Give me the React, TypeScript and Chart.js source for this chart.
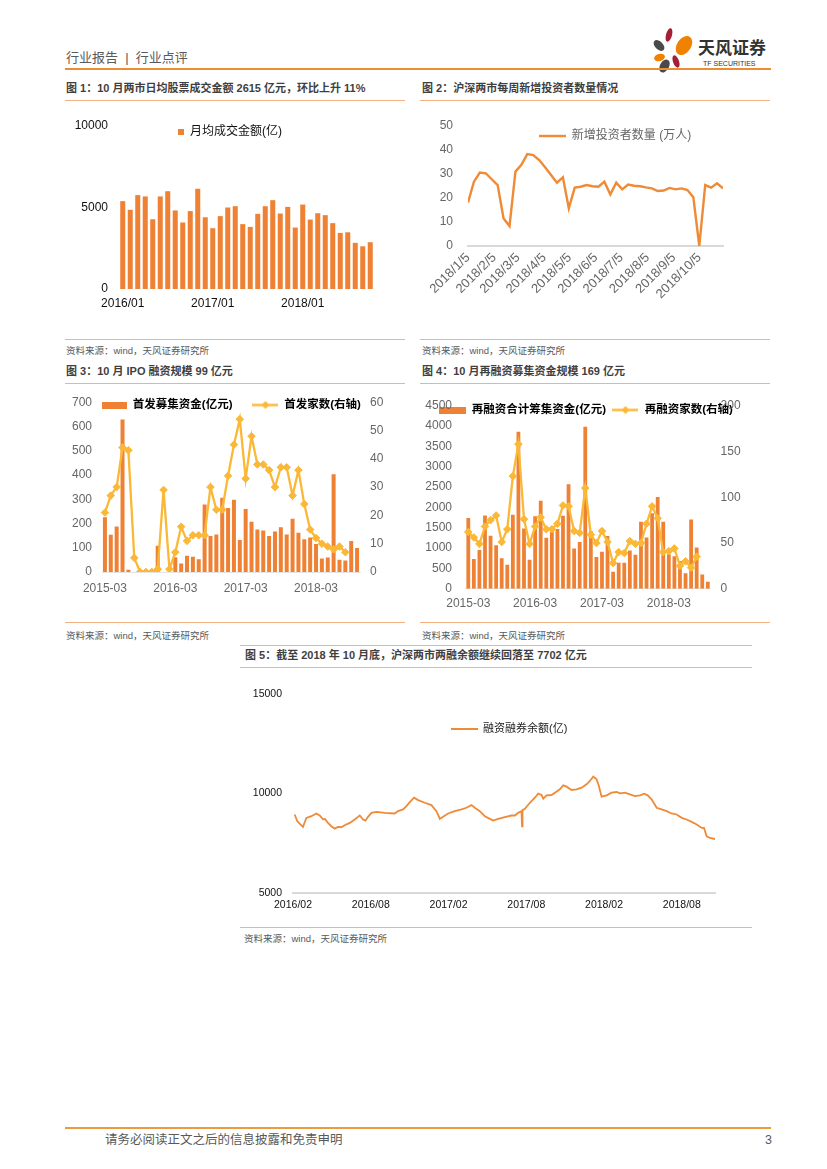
import React, { useEffect, useRef } from 'react';
import { Chart, registerables } from 'chart.js';

Chart.register(...registerables);

const FONT = "'Liberation Sans', Arial, 'Noto Sans CJK SC', sans-serif";
const ORANGE = '#EE8133';
const LINE_ORANGE = '#EF8A36';
const GOLD = '#FBB836';
const GRAY_TXT = '#666666';
const BASE_GRAY = '#D9D9D9';
const RULE = '#F4B183';

function monthSeq(y: number, m: number, n: number, sep: string): string[] {
  const out: string[] = [];
  for (let i = 0; i < n; i++) {
    const t = (m - 1) + i;
    const yy = y + Math.floor(t / 12);
    const mm = (t % 12) + 1;
    out.push(`${yy}${sep}${mm < 10 ? '0' + mm : mm}`);
  }
  return out;
}

// ---- Figure 1: monthly average turnover (亿)
const turnoverMonths = monthSeq(2016, 1, 34, '/');
const turnoverValues = [5390, 4860, 5760, 5680, 4280, 5680, 6000, 4820, 4080, 4780, 6150, 4400, 3730, 4470, 5000, 5080, 3980, 3810, 4610, 5080, 5450, 4630, 5040, 3770, 5180, 4260, 4650, 4530, 4040, 3440, 3480, 2830, 2620, 2870];

// ---- Figure 2: weekly new investors (万人), weeks ending on Fridays from 2018/1/5
const investorFirstWeek = '2018/1/5';
const investorTickLabels = ['2018/1/5', '2018/2/5', '2018/3/5', '2018/4/5', '2018/5/5', '2018/6/5', '2018/7/5', '2018/8/5', '2018/9/5', '2018/10/5'];
const investorWeeklyNew = [18.1, 26.8, 30.6, 30.3, 27.8, 25.4, 11.5, 8.3, 31.0, 33.8, 38.3, 37.9, 35.8, 32.8, 29.6, 26.4, 28.6, 15.7, 24.3, 24.7, 25.4, 24.9, 24.7, 26.8, 21.5, 26.4, 23.6, 25.6, 25.1, 24.9, 24.4, 24.0, 22.9, 23.1, 24.2, 23.6, 24.0, 23.3, 20.3, 0, 25.4, 24.3, 26.1, 24.0];

// ---- Figures 3 & 4: monthly financing
const financingMonths = monthSeq(2015, 3, 44, '-');
const ipoAmount = [226, 154, 188, 629, 9, 0, 0, 0, 0, 108, 0, 0, 61, 35, 67, 63, 53, 278, 148, 155, 306, 264, 298, 132, 260, 207, 175, 171, 148, 167, 184, 155, 220, 162, 135, 142, 115, 56, 60, 403, 51, 47, 128, 99];
const ipoCount = [21, 27, 30, 44, 43, 5, 0, 0, 0, 1, 29, 1, 7, 16, 11, 13, 13, 13, 30, 22, 22, 34, 45, 54, 33, 48, 38, 38, 36, 30, 37, 37, 27, 36, 24, 15, 12, 10, 9, 8, 9, 7, null, null];
const seoAmount = [1740, 730, 950, 1800, 1300, 1070, 750, 590, 1820, 3860, 1480, 710, 1780, 2160, 1250, 1410, 1465, 1795, 2570, 990, 1150, 3980, 1420, 780, 910, 1295, 415, 640, 640, 940, 835, 1645, 1260, 1855, 2255, 1645, 850, 800, 680, 380, 1700, 1015, 350, 169];
const seoCount = [62, 56, 49, 68, 75, 80, 51, 65, 123, 158, 76, 49, 68, 78, 65, 65, 71, 91, 90, 63, 61, 110, 59, 50, 63, 51, 28, 40, 39, 52, 49, 50, 71, 90, 77, 40, 41, 44, 25, 30, 23, 35, null, null];

// ---- Figure 5: margin balance (亿), x = months after 2016/02
const marginTickLabels = ['2016/02', '2016/08', '2017/02', '2017/08', '2018/02', '2018/08'];
const marginMonthOffsets = [
  0.13, 0.33, 0.51, 0.77, 1.03, 1.42, 1.80, 2.06, 2.32, 2.45,
  2.70, 2.96, 3.22, 3.47, 3.73, 3.99, 4.38, 4.76, 5.02, 5.15,
  5.41, 5.59, 5.79, 6.05, 6.44, 7.08, 7.85, 8.11, 8.49, 8.75,
  9.01, 9.34, 9.65, 10.17, 10.68, 11.07, 11.33, 11.58, 11.97, 12.48,
  13.00, 13.38, 13.77, 14.03, 14.41, 14.80, 15.19, 15.44, 15.83, 16.34,
  16.86, 17.12, 17.37, 17.63, 17.67, 17.71, 17.89, 18.28, 18.66, 18.92,
  19.18, 19.31, 19.56, 19.95, 20.21, 20.59, 20.85, 21.11, 21.49, 21.88,
  22.27, 22.65, 22.91, 23.17, 23.42, 23.60, 23.81, 24.20, 24.58, 24.97,
  25.23, 25.61, 26.00, 26.38, 26.77, 27.10, 27.36, 27.67, 28.06, 28.44,
  28.83, 29.21, 29.60, 29.99, 30.37, 30.76, 31.15, 31.53, 31.71, 31.92,
  32.18, 32.56,
];
const marginBalance = [
  8936, 8598, 8480, 8311, 8767, 8851, 8987, 8885, 8683, 8716,
  8514, 8345, 8227, 8311, 8294, 8396, 8514, 8683, 8818, 8885,
  8683, 8632, 8818, 9020, 9071, 9020, 8987, 9105, 9189, 9358,
  9561, 9780, 9662, 9527, 9409, 9105, 8716, 8818, 8987, 9105,
  9189, 9274, 9409, 9274, 9105, 8851, 8716, 8632, 8716, 8801,
  8885, 8885, 9020, 9105, 8345, 9155, 9223, 9527, 9780, 9983,
  9916, 9730, 9899, 9916, 10034, 10203, 10405, 10338, 10169, 10203,
  10287, 10456, 10625, 10845, 10709, 10372, 9831, 9899, 10034, 10068,
  10000, 10034, 9949, 9865, 9899, 9983, 9899, 9696, 9274, 9189,
  9105, 8987, 8936, 8767, 8683, 8564, 8429, 8260, 8260, 7838,
  7754, 7702,
];

// ---------- helpers
function daysFrom(first: string, s: string) {
  const [y0, m0, d0] = first.split('/').map(Number);
  const [y, m, d] = s.split('/').map(Number);
  return Math.round((Date.UTC(y, m - 1, d) - Date.UTC(y0, m0 - 1, d0)) / 86400000);
}

function sym(w: number, h: number, draw: (c: CanvasRenderingContext2D) => void) {
  const c = document.createElement('canvas');
  c.width = w;
  c.height = h;
  const ctx = c.getContext('2d')!;
  draw(ctx);
  return c;
}

function lineSym(color: string, w: number, lw: number) {
  return sym(w, 4, (c) => { c.fillStyle = color; c.fillRect(0, 2 - lw / 2, w, lw); });
}
function rectSym(color: string, w: number, h: number) {
  return sym(w, h, (c) => { c.fillStyle = color; c.fillRect(0, 0, w, h); });
}
function diamondLineSym(color: string, w: number) {
  return sym(w, 9, (c) => {
    c.fillStyle = color;
    c.fillRect(0, 3.3, w, 2.4);
    const m = w / 2;
    c.beginPath();
    c.moveTo(m, 0.5); c.lineTo(m + 4, 4.5); c.lineTo(m, 8.5); c.lineTo(m - 4, 4.5);
    c.closePath();
    c.fill();
  });
}

const plain = (v: any) => String(v);

// legend drawn inside the plot area at a given centre
function insideLegend(cx: number, cy: number, fs: number, pad: number) {
  return {
    id: 'insideLegend',
    beforeUpdate(chart: any) {
      const lg = chart.legend;
      if (lg && !lg._ilPatched) {
        const fit = lg.fit;
        lg.fit = function (this: any, ...a: any[]) { fit.apply(this, a); this.height = 0; };
        lg._ilPatched = true;
      }
    },
    afterLayout(chart: any) {
      const lg = chart.legend;
      if (!lg) return;
      const w = chart.width;
      const top = cy - pad - fs / 2;
      lg.left = cx - w; lg.right = cx + w; lg.width = 2 * w;
      lg.top = top; lg.bottom = top + fs + 2 * pad + 4; lg.height = fs + 2 * pad + 4;
    },
  };
}

function legendCfg(symbols: HTMLCanvasElement[], fs: number, pad: number, bold: boolean, color: string, symW: number) {
  return {
    display: true,
    position: 'top',
    labels: {
      usePointStyle: true,
      pointStyleWidth: symW,
      padding: pad,
      color,
      font: { family: FONT, size: fs, weight: bold ? 'bold' : 'normal' },
      generateLabels: (chart: any) => chart.data.datasets.map((ds: any, i: number) => ({
        text: ds.label, datasetIndex: i, pointStyle: symbols[i], fillStyle: 'rgba(0,0,0,0)',
        strokeStyle: 'rgba(0,0,0,0)', lineWidth: 0, hidden: false, fontColor: color,
      })),
    },
  };
}

const noGrid = { display: false, drawTicks: false };
const font = (size: number) => ({ family: FONT, size });

// ---------- chart configs
function turnoverConfig(): any {
  return {
    type: 'bar',
    data: {
      labels: turnoverMonths,
      datasets: [{ label: '月均成交金额(亿)', data: turnoverValues, backgroundColor: ORANGE, categoryPercentage: 1, barPercentage: 0.67 }],
    },
    options: {
      animation: false, responsive: false, devicePixelRatio: 1, events: [],
      layout: { padding: { left: 4, right: 31, top: 24, bottom: 19 } },
      scales: {
        x: {
          grid: noGrid, border: { display: false },
          ticks: { autoSkip: false, maxRotation: 0, minRotation: 0, padding: 7, color: '#111', font: font(12),
            callback: (_v: any, i: number) => (turnoverMonths[i].endsWith('/01') ? turnoverMonths[i] : '') },
          afterFit: (s: any) => { s.height = 30; },
        },
        y: {
          min: 0, max: 10000, grid: noGrid, border: { display: false },
          ticks: { stepSize: 5000, padding: 11, color: '#111', font: font(12), callback: plain },
          afterFit: (s: any) => { s.width = 50; },
        },
      },
      plugins: {
        tooltip: { enabled: false },
        legend: legendCfg([rectSym(ORANGE, 6, 6)], 12, 10, false, '#111', 6),
      },
    },
    plugins: [insideLegend(165, 30, 12, 10)],
  };
}

function investorConfig(): any {
  const tickDays = investorTickLabels.map((s) => daysFrom(investorFirstWeek, s));
  const lastDay = (investorWeeklyNew.length - 1) * 7;
  return {
    type: 'line',
    data: {
      datasets: [{
        label: '新增投资者数量 (万人)',
        data: investorWeeklyNew.map((v, i) => ({ x: i * 7, y: v })),
        borderColor: LINE_ORANGE, backgroundColor: LINE_ORANGE, borderWidth: 2.4, pointRadius: 0, tension: 0,
      }],
    },
    options: {
      animation: false, responsive: false, devicePixelRatio: 1, events: [],
      layout: { padding: { left: 4, right: 47, top: 24, bottom: 24 } },
      scales: {
        x: {
          type: 'linear', min: 0, max: lastDay,
          grid: noGrid, border: { display: true, color: BASE_GRAY, width: 2 },
          afterBuildTicks: (s: any) => { s.ticks = tickDays.map((v) => ({ value: v })); },
          ticks: { autoSkip: false, minRotation: 45, maxRotation: 45, padding: 4, color: GRAY_TXT, font: font(13),
            callback: (v: any) => { const k = tickDays.indexOf(Number(v)); return k >= 0 ? investorTickLabels[k] : ''; } },
          afterFit: (s: any) => { s.height = 68; },
        },
        y: {
          min: 0, max: 50, grid: noGrid, border: { display: false },
          ticks: { stepSize: 10, padding: 15, color: GRAY_TXT, font: font(12), callback: plain },
          afterFit: (s: any) => { s.width = 44; },
        },
      },
      plugins: {
        tooltip: { enabled: false },
        legend: legendCfg([lineSym(LINE_ORANGE, 27, 2.4)], 12, 10, false, GRAY_TXT, 27),
      },
    },
    plugins: [insideLegend(195, 34, 12, 10)],
  };
}

function financingConfig(opts: {
  barLabel: string; lineLabel: string; bars: number[]; counts: (number | null)[];
  yMax: number; yStep: number; y1Max: number; y1Step: number;
  pad: any; yW: number; y1W: number; xH: number; yPad: number; y1Pad: number; xPad: number;
  barW: number; legend: { cx: number; cy: number; pad: number }; symW: number; radius: number;
}): any {
  return {
    type: 'bar',
    data: {
      labels: financingMonths,
      datasets: [
        { type: 'bar', label: opts.barLabel, data: opts.bars, backgroundColor: ORANGE, yAxisID: 'y', order: 2,
          categoryPercentage: 1, barPercentage: 0.68 },
        { type: 'line', label: opts.lineLabel, data: opts.counts, yAxisID: 'y1', order: 1,
          borderColor: GOLD, backgroundColor: GOLD, borderWidth: 2.3, tension: 0, spanGaps: false,
          pointStyle: 'rectRot', pointRadius: opts.radius, pointBackgroundColor: GOLD, pointBorderColor: GOLD, pointBorderWidth: 1 },
      ],
    },
    options: {
      animation: false, responsive: false, devicePixelRatio: 1, events: [],
      layout: { padding: opts.pad },
      scales: {
        x: {
          grid: noGrid, border: { display: true, color: '#E3E3E3', width: 1 },
          ticks: { autoSkip: false, maxRotation: 0, minRotation: 0, padding: opts.xPad, color: GRAY_TXT, font: font(12),
            callback: (_v: any, i: number) => (financingMonths[i].endsWith('-03') ? financingMonths[i] : '') },
          afterFit: (s: any) => { s.height = opts.xH; },
        },
        y: {
          position: 'left', min: 0, max: opts.yMax, grid: noGrid, border: { display: false },
          ticks: { stepSize: opts.yStep, padding: opts.yPad, color: GRAY_TXT, font: font(12), callback: plain },
          afterFit: (s: any) => { s.width = opts.yW; },
        },
        y1: {
          position: 'right', min: 0, max: opts.y1Max, grid: noGrid, border: { display: false },
          ticks: { stepSize: opts.y1Step, padding: opts.y1Pad, color: GRAY_TXT, font: font(12), callback: plain },
          afterFit: (s: any) => { s.width = opts.y1W; },
        },
      },
      plugins: {
        tooltip: { enabled: false },
        legend: legendCfg([rectSym(ORANGE, opts.barW, 7), diamondLineSym(GOLD, 26)], 11.5, opts.legend.pad, true, '#000', opts.symW),
      },
    },
    plugins: [insideLegend(opts.legend.cx, opts.legend.cy, 11.5, opts.legend.pad)],
  };
}

function marginConfig(): any {
  const tickVals = marginTickLabels.map((_l, i) => i * 6);
  return {
    type: 'line',
    data: {
      datasets: [{
        label: '融资融券余额(亿)',
        data: marginBalance.map((v, i) => ({ x: marginMonthOffsets[i], y: v })),
        borderColor: LINE_ORANGE, backgroundColor: LINE_ORANGE, borderWidth: 1.8, pointRadius: 0, tension: 0,
      }],
    },
    options: {
      animation: false, responsive: false, devicePixelRatio: 1, events: [],
      layout: { padding: { left: 4, right: 35, top: 25, bottom: 7 } },
      scales: {
        x: {
          type: 'linear', min: 0, max: marginMonthOffsets[marginMonthOffsets.length - 1],
          grid: noGrid, border: { display: true, color: BASE_GRAY, width: 2 },
          afterBuildTicks: (s: any) => { s.ticks = tickVals.map((v) => ({ value: v })); },
          ticks: { autoSkip: false, maxRotation: 0, minRotation: 0, padding: 6, color: '#111', font: font(10.5),
            callback: (v: any) => { const k = tickVals.indexOf(Number(v)); return k >= 0 ? marginTickLabels[k] : ''; } },
          afterFit: (s: any) => { s.height = 25.3; },
        },
        y: {
          min: 5000, max: 15000, grid: noGrid, border: { display: false },
          ticks: { stepSize: 5000, padding: 11, color: '#111', font: font(10.5), callback: plain },
          afterFit: (s: any) => { s.width = 47; },
        },
      },
      plugins: {
        tooltip: { enabled: false },
        legend: legendCfg([lineSym(LINE_ORANGE, 27, 2)], 11, 10, false, '#222', 27),
      },
    },
    plugins: [insideLegend(267, 60, 11, 10)],
  };
}

// ---------- components
function ChartCanvas({ left, top, width, height, make }: { left: number; top: number; width: number; height: number; make: () => any }) {
  const ref = useRef<HTMLCanvasElement>(null);
  useEffect(() => {
    if (!ref.current) return;
    const chart = new Chart(ref.current, make());
    return () => chart.destroy();
  }, []);
  return (
    <canvas ref={ref} width={width} height={height}
      style={{ position: 'absolute', left, top, width, height, display: 'block' }} />
  );
}

function Txt({ x, y, size, color = '#595959', weight = 400, children }: any) {
  return (
    <div style={{
      position: 'absolute', left: x, top: y - size * 0.7, fontSize: size, lineHeight: `${size * 1.4}px`,
      color, fontWeight: weight, fontFamily: FONT, whiteSpace: 'pre',
    }}>{children}</div>
  );
}

function Rule({ x, y, w, h = 1, color = RULE }: any) {
  return <div style={{ position: 'absolute', left: x, top: y, width: w, height: h, background: color }} />;
}

function Petal({ cx, cy, w, h, rot, color }: any) {
  return (
    <div style={{
      position: 'absolute', left: cx - w / 2, top: cy - h / 2, width: w, height: h,
      borderRadius: '50%', background: color, transform: `rotate(${rot}deg)`,
    }} />
  );
}

const SOURCE = '资料来源：wind，天风证券研究所';
const TITLE_COLOR = '#3f3f3f';

export default function App() {
  return (
    <div style={{ position: 'absolute', left: 0, top: 0, width: 827, height: 1169, background: '#fff', overflow: 'hidden', fontFamily: FONT }}>
      {/* header */}
      <Txt x={66} y={58} size={13} color="#595959">{'行业报告  |  行业点评'}</Txt>
      <Petal cx={669} cy={35} w={6} h={14} rot={15} color="#A31F34" />
      <Petal cx={684} cy={45} w={14} h={21} rot={35} color="#EF8200" />
      <Petal cx={659} cy={45} w={8} h={13} rot={-45} color="#4A4A4A" />
      <Petal cx={659} cy={57} w={11} h={7} rot={-15} color="#EF8200" />
      <Petal cx={676} cy={61} w={6} h={13} rot={-20} color="#A31F34" />
      <Petal cx={664} cy={66} w={9} h={14} rot={30} color="#4A4A4A" />
      <Txt x={698} y={49} size={17} color="#333" weight={700}>天风证券</Txt>
      <Txt x={703} y={64} size={7} color="#333">TF SECURITIES</Txt>
      <Rule x={65} y={68} w={706} h={2} color="#EC8C34" />

      {/* row 1 */}
      <Txt x={66} y={89} size={11} color={TITLE_COLOR} weight={600}>图 1：10 月两市日均股票成交金额 2615 亿元，环比上升 11%</Txt>
      <Txt x={422} y={89} size={11} color={TITLE_COLOR} weight={600}>图 2：沪深两市每周新增投资者数量情况</Txt>
      <Rule x={65} y={100} w={340} />
      <Rule x={420} y={100} w={350} />
      <ChartCanvas left={65} top={102} width={340} height={236} make={turnoverConfig} />
      <ChartCanvas left={420} top={102} width={350} height={236} make={investorConfig} />
      <Rule x={65} y={339} w={340} />
      <Rule x={420} y={339} w={350} />
      <Txt x={66} y={351} size={9.5}>{SOURCE}</Txt>
      <Txt x={422} y={351} size={9.5}>{SOURCE}</Txt>

      {/* row 2 */}
      <Txt x={66} y={372} size={11} color={TITLE_COLOR} weight={600}>图 3：10 月 IPO 融资规模 99 亿元</Txt>
      <Txt x={422} y={372} size={11} color={TITLE_COLOR} weight={600}>图 4：10 月再融资募集资金规模 169 亿元</Txt>
      <Rule x={65} y={383} w={340} />
      <Rule x={420} y={383} w={350} />
      <ChartCanvas left={65} top={385} width={340} height={236} make={() => financingConfig({
        barLabel: '首发募集资金(亿元)', lineLabel: '首发家数(右轴)', bars: ipoAmount, counts: ipoCount,
        yMax: 700, yStep: 100, y1Max: 60, y1Step: 10,
        pad: { left: 4, right: 4, top: 12, bottom: 19 }, yW: 33, y1W: 41, xH: 30, yPad: 10, y1Pad: 10, xPad: 9,
        barW: 25, legend: { cx: 166, cy: 20, pad: 20 }, symW: 26, radius: 3.8,
      })} />
      <ChartCanvas left={420} top={385} width={350} height={236} make={() => financingConfig({
        barLabel: '再融资合计筹集资金(亿元)', lineLabel: '再融资家数(右轴)', bars: seoAmount, counts: seoCount,
        yMax: 4500, yStep: 500, y1Max: 200, y1Step: 50,
        pad: { left: 4, right: 4, top: 17, bottom: 3 }, yW: 41.5, y1W: 55.4, xH: 29.3, yPad: 13.5, y1Pad: 10, xPad: 8,
        barW: 27, legend: { cx: 166, cy: 25, pad: 6 }, symW: 27, radius: 3.8,
      })} />
      <Rule x={65} y={622} w={340} />
      <Rule x={420} y={622} w={350} />
      <Txt x={66} y={636} size={9.5}>{SOURCE}</Txt>
      <Txt x={422} y={636} size={9.5}>{SOURCE}</Txt>

      {/* row 3 */}
      <Rule x={240} y={645} w={512} />
      <Txt x={245} y={656} size={11} color={TITLE_COLOR} weight={600}>图 5：截至 2018 年 10 月底，沪深两市两融余额继续回落至 7702 亿元</Txt>
      <Rule x={240} y={667} w={512} />
      <ChartCanvas left={242} top={669} width={508} height={256} make={marginConfig} />
      <Rule x={240} y={927} w={512} />
      <Txt x={244} y={939} size={9.5}>{SOURCE}</Txt>

      {/* footer */}
      <Rule x={65} y={1127} w={706} h={2} color="#EC9A3C" />
      <Txt x={105} y={1141} size={12.5} color="#595959">请务必阅读正文之后的信息披露和免责申明</Txt>
      <Txt x={765} y={1141} size={12.5} color="#595959">3</Txt>
    </div>
  );
}
